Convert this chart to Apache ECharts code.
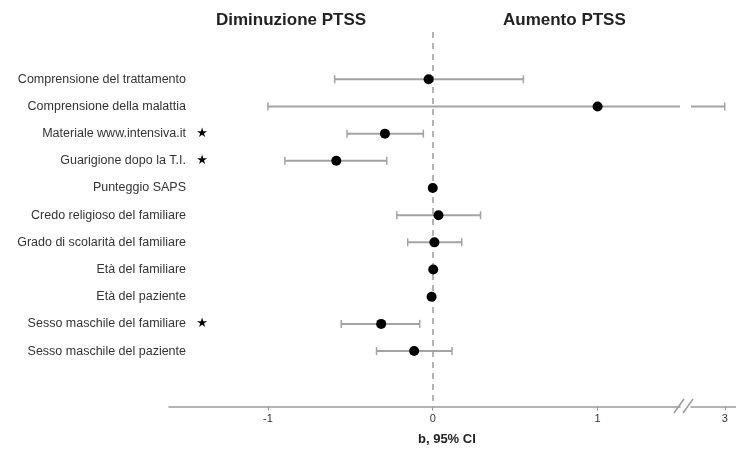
<!DOCTYPE html>
<html>
<head>
<meta charset="utf-8">
<script src="https://cdn.jsdelivr.net/npm/echarts@6/dist/echarts.min.js"></script>
<style>
  html, body { margin: 0; padding: 0; background: #fff; }
  #chart { width: 736px; height: 456px; }
</style>
</head>
<body>
<div id="chart"></div>
<script>
// righe del forest plot, dall'alto in basso
const labels = [
  "Comprensione del trattamento",
  "Comprensione della malattia",
  "Materiale www.intensiva.it",
  "Guarigione dopo la T.I.",
  "Punteggio SAPS",
  "Credo religioso del familiare",
  "Grado di scolarità del familiare",
  "Età del familiare",
  "Età del paziente",
  "Sesso maschile del familiare",
  "Sesso maschile del paziente"
];
const significant = [false, false, true, true, false, false, false, false, false, true, false];
const estimate = [-0.025, 1.0, -0.29, -0.585, 0.0, 0.035, 0.01, 0.003, -0.007, -0.313, -0.113];
const lower = [-0.595, -1.0, -0.52, -0.897, -0.01, -0.218, -0.152, -0.006, -0.014, -0.555, -0.341];
const upper = [0.55, 3.0, -0.057, -0.279, 0.01, 0.29, 0.176, 0.012, 0.0, -0.079, 0.117];
const ticksLeft = [-1, 0, 1];
const ticksRight = [3];

const rows = labels.map((_, i) => i);
const font = "Liberation Sans, Arial, sans-serif";
const barColor = "#a3a3a3";
const axisColor = "#9a9a9a";

function errorBar(params, api) {
  const row = api.value(0);
  const a = api.coord([api.value(1), row]);
  const b = api.coord([api.value(2), row]);
  const cs = params.coordSys;
  const x0 = Math.max(a[0], cs.x);
  const x1 = Math.min(b[0], cs.x + cs.width);
  if (x1 < x0) return null;
  const y = a[1];
  const children = [
    { type: "line", shape: { x1: x0, y1: y, x2: x1, y2: y }, style: { stroke: barColor, lineWidth: 2 } }
  ];
  if (a[0] >= cs.x) {
    children.push({ type: "line", shape: { x1: a[0], y1: y - 4, x2: a[0], y2: y + 4 }, style: { stroke: barColor, lineWidth: 1.5 } });
  }
  if (b[0] <= cs.x + cs.width) {
    children.push({ type: "line", shape: { x1: b[0], y1: y - 4, x2: b[0], y2: y + 4 }, style: { stroke: barColor, lineWidth: 1.5 } });
  }
  return { type: "group", children: children };
}

const ciData = rows.map(i => [i, lower[i], upper[i]]);

function xAxisStyle(idx, min, max, ticks) {
  return {
    type: "value", gridIndex: idx, min: min, max: max,
    axisLine: { onZero: false, lineStyle: { color: axisColor, width: 1.5 } },
    axisTick: { length: 4, lineStyle: { color: axisColor }, customValues: ticks },
    axisLabel: { fontFamily: font, fontSize: 11, color: "#333", margin: 7, customValues: ticks },
    splitLine: { show: false }
  };
}

const chart = echarts.init(document.getElementById("chart"));
chart.setOption({
  animation: false,
  grid: [
    { left: 169, right: 56, top: 32, bottom: 49.5 },
    { left: 691, right: 0, top: 32, bottom: 49.5 }
  ],
  xAxis: [
    xAxisStyle(0, -1.6, 1.5, ticksLeft),
    xAxisStyle(1, 2.79, 3.07, ticksRight)
  ],
  yAxis: [
    {
      type: "value", gridIndex: 0, inverse: true, min: -1.74, max: 12.04,
      axisLine: { show: false }, axisTick: { show: false }, splitLine: { show: false },
      axisLabel: {
        customValues: rows,
        margin: -49,
        formatter: v => "{t|" + labels[v] + "}{s|" + (significant[v] ? "★" : " ") + "}",
        rich: {
          t: { fontFamily: font, fontSize: 12.5, color: "#333" },
          s: { fontFamily: "DejaVu Sans", fontSize: 13, color: "#000", width: 32, align: "center" }
        }
      }
    },
    {
      type: "value", gridIndex: 1, inverse: true, min: -1.74, max: 12.04, show: false
    }
  ],
  series: [
    {
      type: "custom", xAxisIndex: 0, yAxisIndex: 0,
      renderItem: errorBar, encode: { x: [1, 2], y: 0 }, data: ciData, silent: true
    },
    {
      type: "custom", xAxisIndex: 1, yAxisIndex: 1,
      renderItem: errorBar, encode: { x: [1, 2], y: 0 }, data: ciData, silent: true
    },
    {
      type: "scatter", xAxisIndex: 0, yAxisIndex: 0,
      symbolSize: 10, itemStyle: { color: "#000", opacity: 1 }, z: 5,
      data: rows.map(i => [estimate[i], i]),
      markLine: {
        silent: true, symbol: "none", label: { show: false },
        lineStyle: { type: [6, 5], color: axisColor, width: 1.5 },
        data: [{ xAxis: 0 }]
      }
    }
  ],
  graphic: [
    { type: "text", left: 216, top: 12, style: { text: "Diminuzione PTSS", font: "bold 17px " + font, fill: "#222" } },
    { type: "text", left: 503, top: 12, style: { text: "Aumento PTSS", font: "bold 17px " + font, fill: "#222" } },
    { type: "text", left: 418, top: 433, style: { text: "b, 95% CI", font: "bold 13px " + font, fill: "#222" } },
    { type: "line", shape: { x1: 674, y1: 413, x2: 684, y2: 399 }, style: { stroke: axisColor, lineWidth: 1.5 } },
    { type: "line", shape: { x1: 683, y1: 413, x2: 693, y2: 399 }, style: { stroke: axisColor, lineWidth: 1.5 } }
  ]
});
</script>
</body>
</html>
